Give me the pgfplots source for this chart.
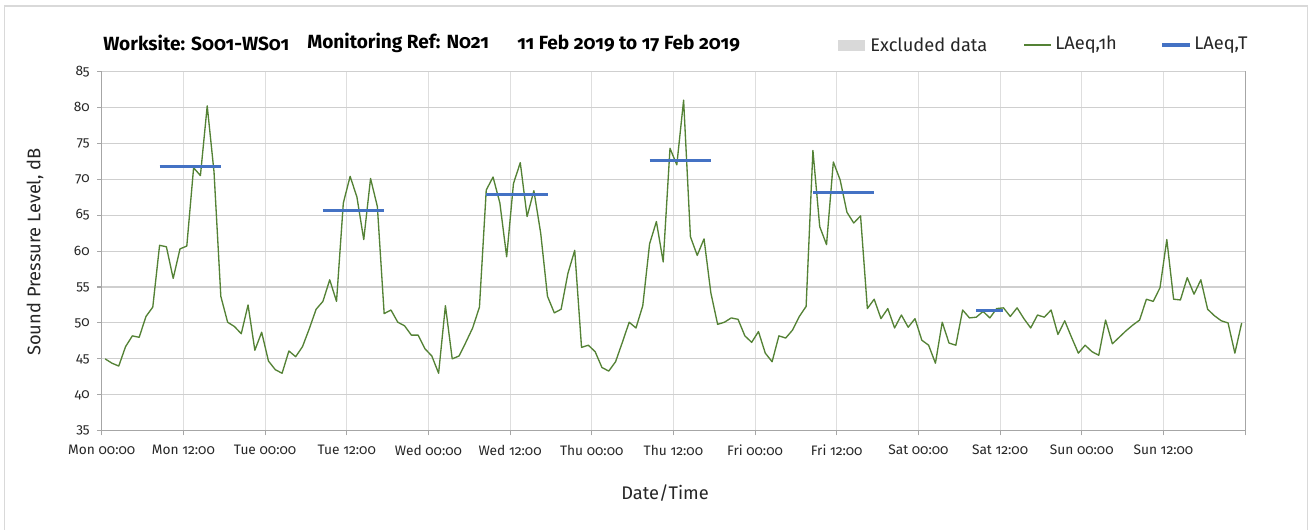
\documentclass[border=0pt]{standalone}
\usepackage{fontspec}
\setmainfont{Fira Sans}[Numbers=OldStyle]
\usepackage{pgfplots}
\pgfplotsset{compat=1.18}
\usepackage{pgfplotstable}
\definecolor{lgreen}{HTML}{548235}
\definecolor{lblue}{HTML}{4472C4}
\definecolor{hgrid}{HTML}{CFCFCF}
\definecolor{vgrid}{HTML}{DEDEDE}
\definecolor{axgray}{HTML}{A6A6A6}
\definecolor{excl}{HTML}{D9D9D9}
\definecolor{txt}{HTML}{262626}

\pgfplotstableread{
x y
0.5 45.0
1.5 44.4
2.5 44.0
3.5 46.7
4.5 48.2
5.5 48.0
6.5 50.9
7.5 52.2
8.5 60.8
9.5 60.6
10.5 56.2
11.5 60.3
12.5 60.7
13.5 71.6
14.5 70.5
15.5 80.2
16.5 71.0
17.5 53.7
18.5 50.1
19.5 49.5
20.5 48.5
21.5 52.5
22.5 46.2
23.5 48.7
24.5 44.7
25.5 43.5
26.5 43.0
27.5 46.1
28.5 45.3
29.5 46.7
30.5 49.2
31.5 51.9
32.5 53.0
33.5 56.0
34.5 53.0
35.5 66.7
36.5 70.4
37.5 67.5
38.5 61.6
39.5 70.1
40.5 66.2
41.5 51.3
42.5 51.8
43.5 50.1
44.5 49.6
45.5 48.3
46.5 48.3
47.5 46.4
48.5 45.4
49.5 43.0
50.5 52.4
51.5 45.0
52.5 45.4
53.5 47.3
54.5 49.3
55.5 52.2
56.5 68.5
57.5 70.3
58.5 66.7
59.5 59.2
60.5 69.4
61.5 72.3
62.5 64.8
63.5 68.4
64.5 62.5
65.5 53.7
66.5 51.4
67.5 51.9
68.5 56.9
69.5 60.1
70.5 46.6
71.5 46.9
72.5 46.0
73.5 43.8
74.5 43.3
75.5 44.6
76.5 47.3
77.5 50.1
78.5 49.3
79.5 52.4
80.5 61.0
81.5 64.1
82.5 58.5
83.5 74.3
84.5 72.0
85.5 81.0
86.5 62.0
87.5 59.4
88.5 61.7
89.5 54.2
90.5 49.8
91.5 50.1
92.5 50.7
93.5 50.5
94.5 48.2
95.5 47.3
96.5 48.8
97.5 45.8
98.5 44.6
99.5 48.2
100.5 47.9
101.5 49.0
102.5 50.9
103.5 52.3
104.5 74.0
105.5 63.4
106.5 60.9
107.5 72.4
108.5 69.9
109.5 65.4
110.5 63.9
111.5 64.9
112.5 52.0
113.5 53.3
114.5 50.6
115.5 52.0
116.5 49.3
117.5 51.1
118.5 49.4
119.5 50.6
120.5 47.6
121.5 46.9
122.5 44.4
123.5 50.1
124.5 47.2
125.5 46.9
126.5 51.8
127.5 50.7
128.5 50.8
129.5 51.6
130.5 50.7
131.5 52.0
132.5 52.1
133.5 50.9
134.5 52.1
135.5 50.6
136.5 49.3
137.5 51.1
138.5 50.8
139.5 51.8
140.5 48.4
141.5 50.3
142.5 48.0
143.5 45.8
144.5 46.9
145.5 46.0
146.5 45.5
147.5 50.4
148.5 47.1
149.5 48.0
150.5 48.9
151.5 49.7
152.5 50.4
153.5 53.3
154.5 53.0
155.5 54.9
156.5 61.6
157.5 53.3
158.5 53.2
159.5 56.3
160.5 54.0
161.5 56.0
162.5 51.9
163.5 51.0
164.5 50.3
165.5 50.0
166.5 45.8
167.5 50.0
}\hourly

\pgfplotstableread{
x y
8.5 71.8
17.5 71.8
nan nan
32.5 65.7
41.5 65.7
nan nan
56.5 67.9
65.5 67.9
nan nan
80.5 72.6
89.5 72.6
nan nan
104.5 68.1
113.5 68.1
nan nan
128.5 51.7
132.5 51.7
}\periods

\begin{document}
\begin{tikzpicture}[x=1pt,y=1pt]
\useasboundingbox (0,0) rectangle (981.75,396.75);
\fill[white] (0,0) rectangle (981.75,396.75);
\draw[excl, line width=0.8pt] (3.4,-2) -- (3.4,392.25) -- (980.6,392.25) -- (980.6,-2);
\begin{axis}[
  at={(76.3pt,73.7pt)}, anchor=south west,
  scale only axis, width=857.5pt, height=269.5pt,
  xmin=0, xmax=168, ymin=35, ymax=85,
  xtick={0,12,...,168},
  xticklabels={Mon 00:00,Mon 12:00,Tue 00:00,Tue 12:00,Wed 00:00,Wed 12:00,Thu 00:00,Thu 12:00,Fri 00:00,Fri 12:00,Sat 00:00,Sat 12:00,Sun 00:00,Sun 12:00,{}},
  ytick={35,40,...,85},
  axis line style={draw=none},
  xmajorgrids, ymajorgrids,
  x grid style={vgrid, line width=0.8pt},
  y grid style={hgrid, line width=0.8pt},
  tick align=outside, xtick pos=bottom, ytick pos=left,
  major tick length=3.5pt,
  tick style={axgray, line width=0.8pt},
  /pgf/number format/assume math mode=true,
  ticklabel style={font=\fontsize{10.3}{12}\selectfont, text=txt},
  xticklabel style={yshift=-3.5pt},
  yticklabel style={xshift=-2pt},
  clip=false,
]
\draw[axgray, line width=0.8pt] (axis cs:0,85) -- (axis cs:0,35) -- (axis cs:168,35) -- (axis cs:168,85);
\addplot[lgreen, line width=1pt, line join=round] table[x=x,y=y] {\hourly};
\addplot[lblue, line width=2.3pt, unbounded coords=jump] table[x=x,y=y] {\periods};
\end{axis}
% titles
\node[anchor=west, inner sep=0, font=\bfseries\fontsize{14.3}{16}\selectfont] at (77.25,364.5) {Worksite: S001-WS01};
\node[anchor=west, inner sep=0, font=\bfseries\fontsize{14.3}{16}\selectfont] at (230.25,364.5) {Monitoring Ref: N021};
\node[anchor=west, inner sep=0, font=\bfseries\fontsize{14.3}{16}\selectfont] at (387.75,364.5) {11 Feb 2019 to 17 Feb 2019};
% legend
\fill[excl] (628.5,358.5) rectangle (648.75,366.75);
\node[anchor=west, inner sep=0, text=txt, font=\fontsize{13.7}{16}\selectfont] at (652.5,363) {Excluded data};
\draw[lgreen, line width=1pt] (768,363) -- (788.25,363);
\node[anchor=west, inner sep=0, text=txt, font=\fontsize{13.7}{16}\selectfont] at (791.25,363) {LAeq,1h};
\draw[lblue, line width=2.3pt] (871.5,363) -- (892.5,363);
\node[anchor=west, inner sep=0, text=txt, font=\fontsize{13.7}{16}\selectfont] at (895.5,363) {LAeq,T};
% axis titles
\node[rotate=90, text=txt, font=\fontsize{13.7}{16}\selectfont] at (26.25,207.75) {Sound Pressure Level, dB};
\node[text=txt, font=\fontsize{13.7}{16}\selectfont] at (498.75,27) {Date/Time};
\end{tikzpicture}
\end{document}
